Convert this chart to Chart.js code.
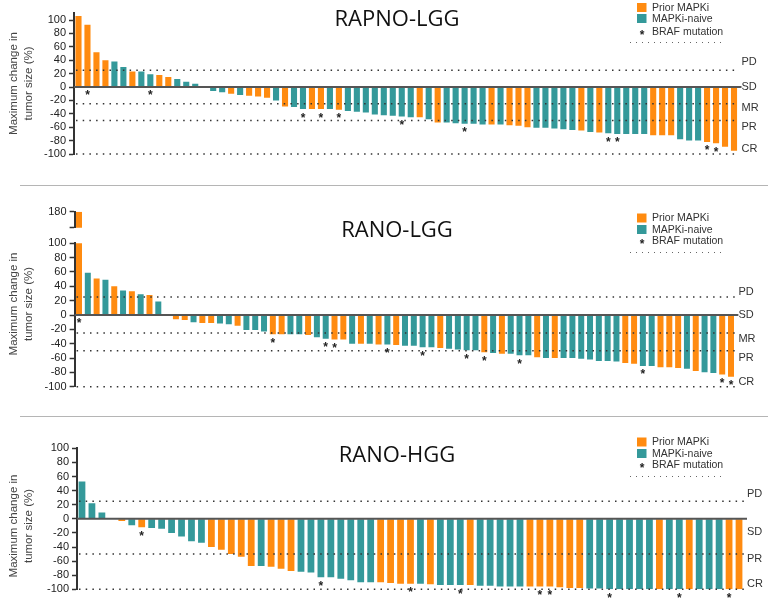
<!DOCTYPE html>
<html>
<head>
<meta charset="utf-8">
<script src="https://cdn.jsdelivr.net/npm/chart.js@4.4.0/dist/chart.umd.min.js"></script>
<style>
  html, body { margin: 0; padding: 0; background: #fff; }
  #wrap { position: relative; width: 768px; height: 599px; overflow: hidden; }
  #wrap canvas { position: absolute; left: 0; top: 0; }
  .sep { position: absolute; left: 20px; right: 0; height: 1px; background: #b5b5b5; }
</style>
</head>
<body>
<div id="wrap">
  <canvas id="c1" width="768" height="599"></canvas>
  <canvas id="c2top" width="768" height="599"></canvas>
  <canvas id="c2" width="768" height="599"></canvas>
  <canvas id="c3" width="768" height="599"></canvas>
  <div class="sep" style="top:185px"></div>
  <div class="sep" style="top:416px"></div>
</div>
<script>
// ---- data ----
// P = prior MAPKi, N = MAPKi-naive
const rapnoLggValues = [
  106, 93, 52, 40, 38, 30, 23, 23, 19, 18,
  15, 12, 8, 5, 0, -6, -8, -10, -12, -13,
  -14, -16, -20, -29, -30, -33, -33, -33, -33, -34,
  -36, -37, -38, -41, -42, -43, -44, -45, -45, -48,
  -53, -53, -54, -55, -55, -56, -56, -56, -57, -58,
  -60, -61, -61, -62, -63, -64, -65, -67, -68, -69,
  -70, -70, -70, -70, -72, -72, -72, -78, -80, -80,
  -82, -84, -89, -95
];
const rapnoLggGroups = [
  'P','P','P','P','N','N','P','N','N','P',
  'P','N','N','N','N','N','N','P','N','P',
  'P','P','N','P','N','N','P','P','N','P',
  'N','N','N','N','N','N','N','N','P','N',
  'P','N','N','N','N','N','P','N','P','P',
  'P','N','N','N','N','N','P','N','P','N',
  'N','N','N','N','P','P','P','N','N','N',
  'P','P','P','P'
];
const rapnoLggBraf = [2, 9, 26, 28, 30, 37, 44, 60, 61, 71, 72];

const ranoLggValues = [
  180, 59, 51, 49, 40, 34, 33, 29, 28, 19,
  0, -6, -7, -10, -11, -11, -12, -13, -15, -21,
  -21, -23, -27, -27, -27, -27, -28, -31, -33, -34,
  -34, -40, -40, -40, -41, -41, -42, -43, -43, -45,
  -45, -46, -47, -48, -49, -49, -52, -53, -54, -54,
  -56, -56, -59, -60, -60, -60, -60, -61, -62, -64,
  -64, -65, -67, -68, -71, -71, -73, -73, -74, -75,
  -78, -80, -81, -83, -86
];
const ranoLggGroups = [
  'P','N','P','N','P','N','P','N','P','N',
  'N','P','P','N','P','P','N','N','P','N',
  'N','N','P','P','N','N','P','N','N','P',
  'P','N','P','N','P','N','P','N','N','N',
  'N','P','N','N','N','N','P','N','P','N',
  'N','N','P','N','P','N','N','N','N','N',
  'N','N','P','P','N','N','P','P','P','N',
  'P','N','N','P','P'
];
const ranoLggBraf = [1, 23, 29, 30, 36, 40, 45, 47, 51, 65, 74, 75];

const ranoHggValues = [
  53, 22, 9, 0, -3, -9, -12, -13, -14, -20,
  -25, -32, -34, -40, -44, -50, -54, -67, -67, -68,
  -71, -74, -75, -76, -83, -83, -85, -87, -90, -90,
  -90, -91, -92, -92, -92, -93, -94, -94, -94, -94,
  -95, -95, -96, -96, -96, -96, -96, -96, -97, -98,
  -98, -99, -99, -100, -100, -100, -100, -100, -100, -100,
  -100, -100, -100, -100, -100, -100, -100
];
const ranoHggGroups = [
  'N','N','N','N','P','N','P','N','N','N',
  'N','N','N','P','P','P','P','P','N','P',
  'P','P','N','N','N','N','N','N','N','N',
  'P','P','P','P','N','P','N','N','N','P',
  'N','N','N','N','N','P','P','P','P','P',
  'P','N','N','N','N','N','N','N','P','N',
  'N','P','N','N','N','P','P'
];
const ranoHggBraf = [7, 25, 34, 39, 47, 48, 54, 61, 66];

const yTicksMain = [-100, -80, -60, -40, -20, 0, 20, 40, 60, 80, 100];
const yTicksBreak = [160, 180];
const responseLevels = [25, -25, -50, -100];      // PD, MR, PR, CR
const hggLevels = [25, -50, -100];                // PD, PR, CR
const legendLabels = ['Prior MAPKi', 'MAPKi-naive', 'BRAF mutation'];

const ORANGE = '#ff8b10';
const TEAL = '#34999a';
const SANS = '"Liberation Sans", Arial, sans-serif';

function drawStar(ctx, x, yc) {
  ctx.font = 'bold 12px ' + SANS;
  ctx.textAlign = 'center';
  ctx.textBaseline = 'alphabetic';
  ctx.fillText('*', x, yc + 7);
}

const decorPlugin = {
  id: 'decor',
  afterDatasetsDraw(chart, args, o) {
    if (!o || !o.on) return;
    const ctx = chart.ctx, area = chart.chartArea, y = chart.scales.y;
    ctx.save();
    // dotted response lines
    ctx.strokeStyle = '#333';
    ctx.lineWidth = 1.5;
    ctx.setLineDash([1.5, 5.2]);
    o.dotted.forEach(v => {
      const py = y.getPixelForValue(v);
      ctx.beginPath();
      ctx.moveTo(area.left + 2, py);
      ctx.lineTo(area.right, py);
      ctx.stroke();
    });
    ctx.setLineDash([]);
    // zero line
    const z = y.getPixelForValue(0);
    ctx.strokeStyle = '#555';
    ctx.lineWidth = 2;
    ctx.beginPath();
    ctx.moveTo(area.left, z);
    ctx.lineTo(area.right + 3, z);
    ctx.stroke();
    // right labels
    ctx.fillStyle = '#333';
    ctx.font = '11px ' + SANS;
    ctx.textAlign = 'left';
    ctx.textBaseline = 'middle';
    o.labels.forEach(([t, v]) => ctx.fillText(t, area.right + 3, y.getPixelForValue(v)));
    // BRAF stars
    ctx.fillStyle = '#222';
    const meta = chart.getDatasetMeta(0);
    o.braf.forEach(n => {
      const el = meta.data[n - 1];
      drawStar(ctx, el.x, Math.max(el.y, el.base) + 5.5);
    });
    ctx.restore();
  },
  afterDraw(chart, args, o) {
    if (!o || !o.on) return;
    const ctx = chart.ctx;
    ctx.save();
    // title
    ctx.fillStyle = '#111';
    ctx.font = '22px "Open Sans", ' + SANS;
    ctx.textAlign = 'center';
    ctx.textBaseline = 'alphabetic';
    ctx.fillText(o.title, 397, o.titleY);
    // legend
    const lx = 637;
    ctx.fillStyle = ORANGE;
    ctx.fillRect(lx, o.legendY[0] - 4.5, 9.5, 9);
    ctx.fillStyle = TEAL;
    ctx.fillRect(lx, o.legendY[1] - 4.5, 9.5, 9);
    ctx.fillStyle = '#222';
    drawStar(ctx, lx + 5, o.legendY[2]);
    ctx.fillStyle = '#333';
    ctx.font = '10.5px ' + SANS;
    ctx.textAlign = 'left';
    ctx.textBaseline = 'middle';
    legendLabels.forEach((t, i) => ctx.fillText(t, lx + 15, o.legendY[i] + 0.5));
    ctx.strokeStyle = '#666';
    ctx.lineWidth = 1;
    ctx.setLineDash([1, 5]);
    ctx.beginPath();
    ctx.moveTo(630, o.legendLineY);
    ctx.lineTo(726, o.legendLineY);
    ctx.stroke();
    ctx.setLineDash([]);
    // y-axis title
    ctx.fillStyle = '#444';
    ctx.font = '11.5px ' + SANS;
    ctx.textAlign = 'center';
    ctx.textBaseline = 'middle';
    [['Maximum change in', 13.5], ['tumor size (%)', 28.5]].forEach(([t, x]) => {
      ctx.save();
      ctx.translate(x, o.axisTitleY);
      ctx.rotate(-Math.PI / 2);
      ctx.fillText(t, 0, 0);
      ctx.restore();
    });
    ctx.restore();
  }
};

function makeChart(id, values, groups, area, yMin, yMax, ticks, decor, tickLabel) {
  const labels = values.map((_, i) => i + 1);
  return new Chart(document.getElementById(id), {
    type: 'bar',
    data: {
      labels: labels,
      datasets: [{
        data: values,
        backgroundColor: groups.map(g => g === 'P' ? ORANGE : TEAL),
        borderWidth: 0,
        barPercentage: 0.68,
        categoryPercentage: 1,
        clip: 0
      }]
    },
    options: {
      responsive: false,
      animation: false,
      devicePixelRatio: 1,
      events: [],
      layout: { padding: { left: 0, top: area.top, right: 768 - area.right, bottom: 599 - area.bottom } },
      plugins: { legend: { display: false }, tooltip: { enabled: false }, decor: decor },
      scales: {
        x: { display: false, offset: true },
        y: {
          min: yMin, max: yMax,
          afterBuildTicks: s => { s.ticks = ticks.map(v => ({ value: v })); },
          afterFit: s => { s.width = area.left; },
          ticks: {
            autoSkip: false,
            font: { family: SANS, size: 11 }, color: '#222', padding: 3,
            callback: tickLabel || (v => String(v))
          },
          grid: { drawOnChartArea: false, tickLength: 5, tickColor: '#333', tickWidth: 1.5 },
          border: { color: '#333', width: 2 }
        }
      }
    },
    plugins: [decorPlugin]
  });
}

// RAPNO-LGG
makeChart('c1', rapnoLggValues, rapnoLggGroups,
  { left: 74, right: 738.5, top: 13.3, bottom: 154 }, -100, 110, yTicksMain, {
    on: true, title: 'RAPNO-LGG', titleY: 26, legendY: [7.5, 18.5, 31.5], legendLineY: 42.5,
    axisTitleY: 83.5, dotted: responseLevels, braf: rapnoLggBraf,
    labels: [['PD', 37], ['SD', 0], ['MR', -32], ['PR', -60], ['CR', -92]]
  });

// RANO-LGG (broken axis: upper stub 160-180)
makeChart('c2top', ranoLggValues, ranoLggGroups,
  { left: 74.6, right: 735.4, top: 211.7, bottom: 227.7 }, 160, 180, yTicksBreak, { on: false },
  v => v === 180 ? '180' : '');
makeChart('c2', ranoLggValues, ranoLggGroups,
  { left: 74.6, right: 735.4, top: 243.3, bottom: 386.7 }, -100, 100, yTicksMain, {
    on: true, title: 'RANO-LGG', titleY: 236.5, legendY: [218, 229.5, 241], legendLineY: 252.5,
    axisTitleY: 304, dotted: responseLevels, braf: ranoLggBraf,
    labels: [['PD', 32], ['SD', 0], ['MR', -33.5], ['PR', -60], ['CR', -94]]
  });

// RANO-HGG
makeChart('c3', ranoHggValues, ranoHggGroups,
  { left: 77, right: 744, top: 448.3, bottom: 589.3 }, -100, 100, yTicksMain, {
    on: true, title: 'RANO-HGG', titleY: 461.5, legendY: [442, 453.5, 465], legendLineY: 476.5,
    axisTitleY: 526, dotted: hggLevels, braf: ranoHggBraf,
    labels: [['PD', 35], ['SD', -18.5], ['PR', -57], ['CR', -93]]
  });
</script>
</body>
</html>
